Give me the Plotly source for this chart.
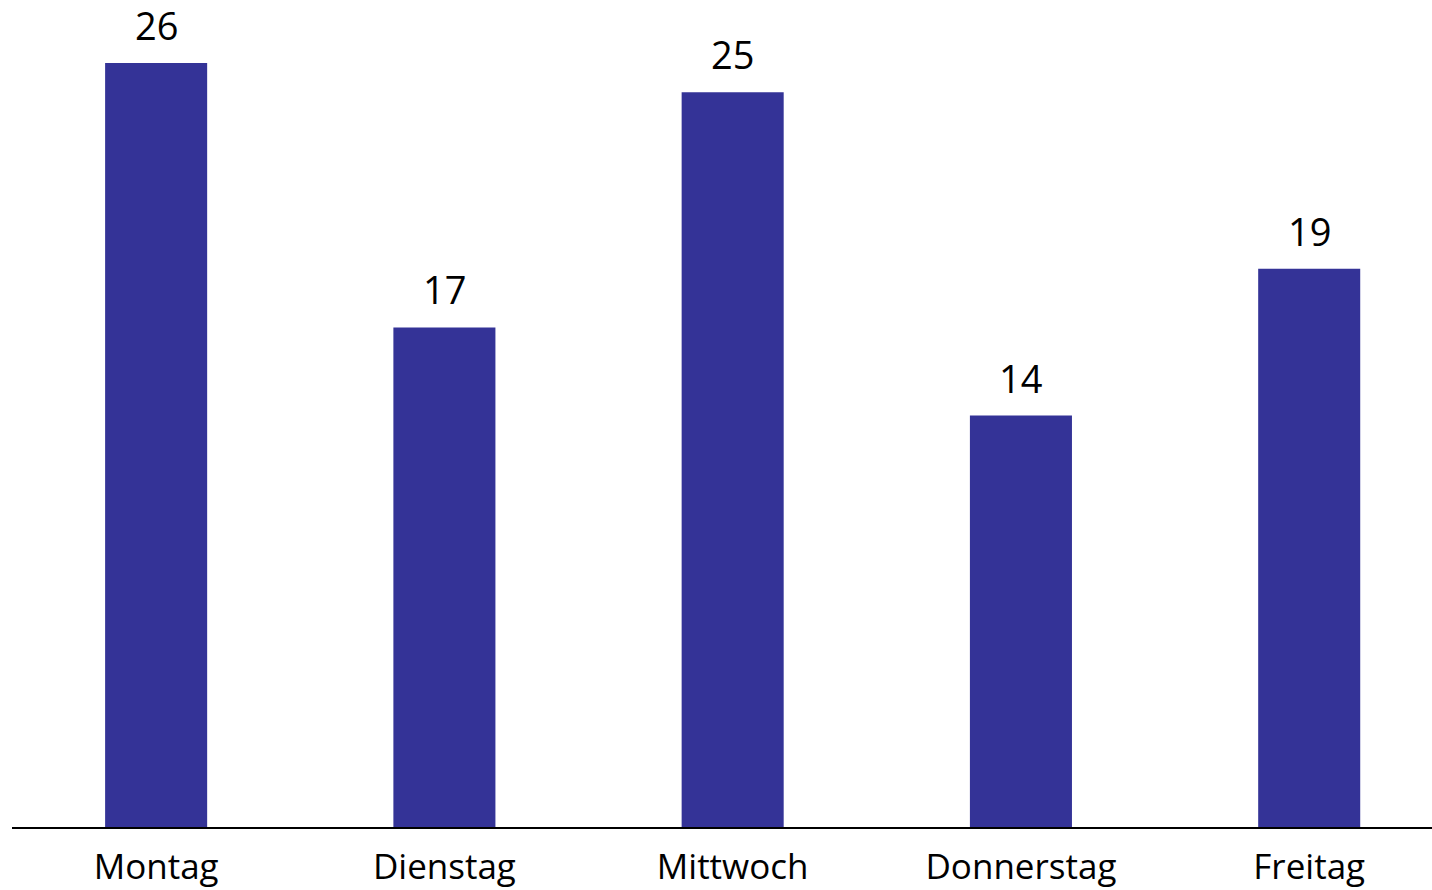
import plotly.graph_objects as go

tage = ["Montag", "Dienstag", "Mittwoch", "Donnerstag", "Freitag"]
werte = [26, 17, 25, 14, 19]

_FONT = dict(family="Open Sans, Noto Sans, Arial", color="#000000", size=35)

fig = go.Figure(go.Bar(
    x=tage, y=werte,
    marker_color="#343397", marker_line_width=0,
    hoverinfo="x+y",
))

# Wertebeschriftung oberhalb der Balken
for tag, wert in zip(tage, werte):
    fig.add_annotation(
        x=tag, y=wert, text=str(wert), showarrow=False,
        yanchor="bottom", yshift=11, borderpad=0,
        font=dict(size=38, color="#000000"),
    )

fig.update_layout(
    width=1432, height=890,
    paper_bgcolor="#FFFFFF", plot_bgcolor="#FFFFFF",
    font=_FONT,
    margin=dict(l=12, r=0, t=8, b=63, autoexpand=False),
    bargap=0.646,
    showlegend=False,
    xaxis=dict(range=[-0.5, 4.426], showgrid=False, zeroline=False,
               showline=True, linecolor="#000000", linewidth=2,
               ticks="", ticklabelstandoff=8,
               tickfont=dict(size=35, color="#000000")),
    yaxis=dict(range=[0, 27.87], visible=False),
)

# Seitenrand entfernen, damit die Grafik bündig im Fenster sitzt
fig.write_html("out.html", config={"displayModeBar": False},
               post_script="document.body.style.margin='0';")
